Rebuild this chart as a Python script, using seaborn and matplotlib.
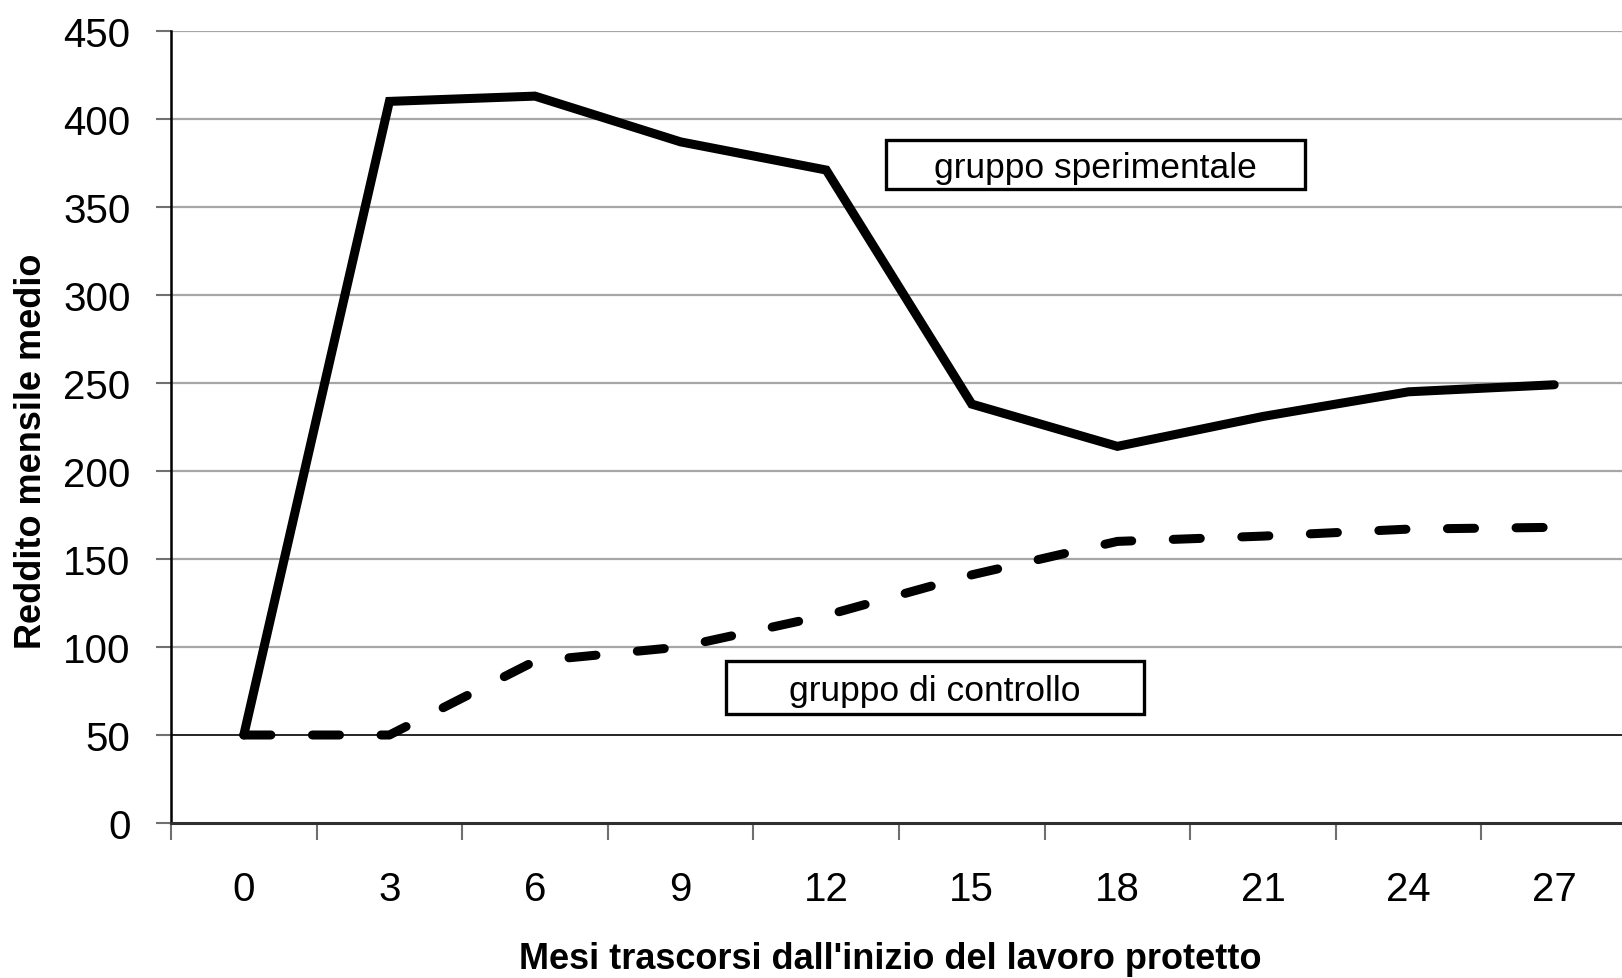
import pandas as pd
import matplotlib
matplotlib.use('Agg')
import matplotlib.pyplot as plt
import seaborn as sns
from matplotlib.patches import Rectangle

# ------------- data ------------------------------------------------------------
mesi = ['0', '3', '6', '9', '12', '15', '18', '21', '24', '27']
sperimentale = [50, 410, 413, 387, 371, 238, 214, 231, 245, 249]
controllo = [50, 50, 92, 100, 118, 141, 160, 163, 167, 168]
y_ticks = [0, 50, 100, 150, 200, 250, 300, 350, 400, 450]

nome_sper = 'gruppo sperimentale'
nome_contr = 'gruppo di controllo'

df = pd.DataFrame({
    'mese': mesi * 2,
    'reddito': sperimentale + controllo,
    'gruppo': [nome_sper] * len(mesi) + [nome_contr] * len(mesi),
})

# ------------- style -----------------------------------------------------------
sns.set_style('white')
plt.rcParams['font.family'] = ['Liberation Sans Narrow', 'Liberation Sans', 'DejaVu Sans']
plt.rcParams['text.color'] = 'black'
plt.rcParams['axes.labelcolor'] = 'black'

fig = plt.figure(figsize=(16.22, 9.79), dpi=100)
ax = fig.add_axes([171 / 1622, 155 / 979, 1456 / 1622, 792 / 979])

# gridlines (grey) and the black reference line at 50
for v in y_ticks[2:]:
    ax.axhline(v, color='#a6a6a6', lw=1.6, zorder=1)
ax.axhline(50, color='black', lw=1.2, zorder=1)

sns.lineplot(data=df, x='mese', y='reddito', style='gruppo', ax=ax,
             color='black', lw=6.5, legend=False, sort=False,
             dashes={nome_sper: '', nome_contr: (3, 4.6)}, zorder=3)

for ln in ax.lines[-2:]:
    ln.set_solid_joinstyle('miter')
    ln.set_solid_capstyle('round')
    ln.set_dash_capstyle('round')
    ln.set_dash_joinstyle('round')

ax.set_xlim(-0.5, len(mesi) - 0.5)
ax.set_ylim(0, 450)
ax.set_yticks(y_ticks)

# category ticks in between the labels, as in the spreadsheet chart
ax.set_xticks(range(len(mesi)))
ax.set_xticklabels(mesi)
ax.set_xticks([i - 0.5 for i in range(len(mesi))], minor=True)
ax.tick_params(axis='x', which='major', length=0, pad=34, labelsize=29,
               labelcolor='black')
ax.tick_params(axis='x', which='minor', length=12, width=1.5,
               color='#707070', direction='out', bottom=True)
ax.tick_params(axis='y', which='major', length=11, width=1.5,
               color='#707070', direction='out', left=True, pad=18,
               labelsize=29, labelcolor='black')

for s in ['top', 'right']:
    ax.spines[s].set_visible(False)
ax.spines['left'].set_color('black')
ax.spines['left'].set_linewidth(1.8)
ax.spines['bottom'].set_color('#303030')
ax.spines['bottom'].set_linewidth(2.2)

ax.set_xlabel("Mesi trascorsi dall'inizio del lavoro protetto",
              fontsize=26, fontweight='bold')
ax.set_ylabel('Reddito mensile medio', fontsize=26, fontweight='bold')
ax.xaxis.set_label_coords(0.494, -0.149)
ax.yaxis.set_label_coords(-0.084, 0.471)

# ------------- text boxes ------------------------------------------------------
boxes = [(nome_sper, 4.41, 360, 2.88, 28), (nome_contr, 3.31, 62, 2.87, 30)]
for txt, bx, by, bw, bh in boxes:
    ax.add_patch(Rectangle((bx, by), bw, bh, fill=True, fc='white',
                           ec='black', lw=2.4, zorder=4))
    ax.text(bx + bw / 2, by + bh / 2 - 1.5, txt, ha='center', va='center',
            fontsize=25.5, family=['Liberation Sans', 'DejaVu Sans'], zorder=5)

fig.savefig('out.png', dpi=100)
